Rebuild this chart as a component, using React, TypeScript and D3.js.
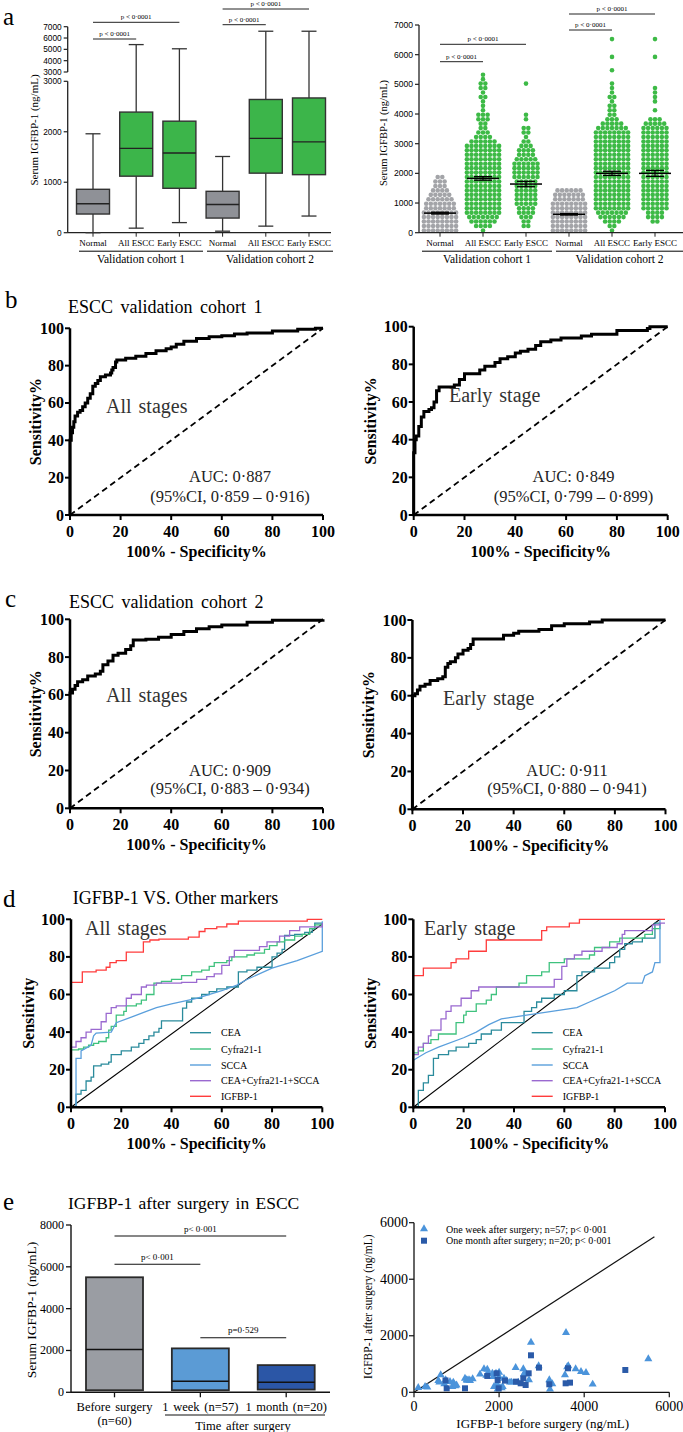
import React from 'react';
import * as d3 from 'd3';

const SERIF = '"Liberation Serif","Times New Roman",Times,serif';
const SANS = '"Liberation Sans",Arial,Helvetica,sans-serif';

type Pt = [number, number];

// ---------------- Panel a data ----------------
const groupKeys = ['n1', 'a1', 'e1', 'n2', 'a2', 'e2'];
const groupLabels = ['Normal', 'All ESCC', 'Early ESCC', 'Normal', 'All ESCC', 'Early ESCC'];
const cohortLabels = ['Validation cohort 1', 'Validation cohort 2'];
const boxMin = [0, 90, 200, 30, 130, 330];
const boxQ1 = [370, 1120, 880, 290, 1180, 1150];
const boxMedian = [575, 1670, 1580, 560, 1870, 1800];
const boxQ3 = [860, 2390, 2210, 820, 2640, 2670];
const boxMax = [1960, 5420, 5050, 1510, 6600, 6600];
const boxTicksLow = [0, 1000, 2000, 3000];
const boxTicksHigh = [3000, 4000, 5000, 6000, 7000];
const sigPairs: [number, number][] = [[0, 1], [0, 2], [3, 4], [3, 5]];
const sigText = 'p < 0·0001';

// swarm: dot counts per 150 ng/mL bin (bin i centred at 150*(i+0.5))
const swarmBin = 150;
const swarmCounts = [
  [8, 8, 8, 8, 8, 7, 7, 6, 5, 4, 3, 3, 2],
  [1, 4, 6, 7, 8, 8, 8, 8, 8, 8, 8, 8, 8, 8, 8, 8, 8, 8, 8, 8, 6, 4, 3, 2, 2, 3, 3, 1, 1, 1, 2, 1, 2, 2, 1, 1],
  [0, 2, 2, 3, 4, 4, 5, 5, 5, 5, 5, 5, 6, 6, 6, 6, 5, 4, 4, 3, 2, 1, 2, 2, 0, 1, 1, 0, 0, 0, 0, 0, 0, 1],
  [8, 8, 8, 8, 8, 8, 8, 7, 7, 6],
  [1, 2, 4, 6, 7, 8, 8, 8, 8, 8, 8, 8, 8, 8, 8, 8, 8, 8, 8, 8, 8, 8, 8, 7, 5, 3, 2, 2, 2, 1, 2, 1, 1, 1, 0, 0, 1, 0, 0, 1, 0, 0, 0, 1],
  [0, 0, 2, 4, 4, 6, 6, 6, 6, 6, 6, 6, 6, 6, 6, 6, 6, 6, 6, 6, 6, 6, 6, 6, 5, 3, 0, 1, 0, 1, 1, 1, 1, 0, 0, 0, 0, 0, 0, 1, 0, 0, 0, 1],
];
const swarmMean = [660, 1830, 1640, 620, 2000, 2000];
const swarmSem = [30, 60, 90, 25, 70, 100];
const swarmTicks = [0, 1000, 2000, 3000, 4000, 5000, 6000, 7000];

// ---------------- Panels b / c data ----------------
const rocTicks = [0, 20, 40, 60, 80, 100];
const rocB1: Pt[] = [[0, 0], [0, 40], [0.5, 44], [1, 47], [1.5, 50], [2, 53], [3, 55], [4, 56], [5, 58], [6, 60], [7, 62.5], [8, 65], [9, 69], [10, 70.5], [11, 72], [12, 74], [14, 75], [16, 76], [16.5, 77.7], [17, 79], [18, 82], [18.5, 83], [22, 84], [26, 85], [30, 86.5], [34, 88], [38, 89], [40, 90], [42, 91.5], [45, 93], [50, 94.5], [55, 95.5], [60, 96], [65, 97], [70, 97.5], [80, 98.5], [90, 99.5], [97, 100], [100, 100]];
const rocB2: Pt[] = [[0, 0], [0, 33], [0.5, 40], [1, 42], [2, 47], [3, 52], [4, 55], [6, 56], [7, 57], [8, 60], [9, 66], [10, 68], [14, 68], [16, 69], [18, 72], [20, 75], [24, 75], [26, 77], [28, 79], [32, 81], [34, 83], [37, 84], [40, 86], [42, 87], [45, 88], [48, 90], [50, 92], [54, 93], [58, 94], [66, 95], [70, 96], [78, 96], [80, 98], [88, 98], [92, 99], [93, 100], [100, 100]];
const rocC1: Pt[] = [[0, 0], [0, 61], [1, 63], [2, 65], [3, 67], [5, 68], [7, 70], [10, 71], [12, 72.5], [13, 76], [15, 78], [17, 81], [19, 82], [22, 84], [24, 86], [25, 89], [30, 89.5], [35, 90.5], [40, 92], [45, 93.5], [50, 95], [55, 96], [60, 97], [70, 98.5], [80, 99.5], [100, 100]];
const rocC2: Pt[] = [[0, 0], [0, 60], [1, 61], [2, 63], [3, 65], [5, 66], [7, 68], [10, 69], [12, 70], [13, 75], [14, 77], [15, 78], [17, 80], [18, 82], [20, 84], [22, 85], [23, 87], [24, 90], [35, 90], [36, 92], [40, 93], [42, 94], [50, 95], [55, 97], [60, 98], [70, 99], [75, 100], [100, 100]];

// ---------------- Panel d data ----------------
const markerNames = ['CEA', 'Cyfra21-1', 'SCCA', 'CEA+Cyfra21-1+SCCA', 'IGFBP-1'];
const dAllCEA: Pt[] = [[0, 0], [2, 0], [2, 7], [4, 9], [6, 14], [8, 16], [9, 22], [12, 23], [15, 24], [16, 28], [20, 30], [24, 32], [27, 34], [29, 36], [31, 38], [33, 40], [35, 42], [36, 46], [44.4, 52.7], [46, 56], [48, 58], [52, 60], [55, 61.5], [58, 63], [62, 64], [66.6, 66], [66.6, 72], [70, 73], [74, 74.5], [80, 75], [80, 80], [82, 82], [84, 84], [85, 91.5], [89, 92], [93, 93], [96, 95], [97, 98], [100, 98]];
const dAllCyfra: Pt[] = [[0, 0], [0, 30.5], [3, 31], [5, 32], [7, 33], [9, 34], [11, 35], [14, 37], [15, 41], [16, 43], [18, 44], [18, 49], [21, 51], [22, 54], [26, 55], [28, 57], [30, 60], [33, 62], [33, 66], [36, 67], [40, 68], [44, 70], [48, 72], [52, 73], [55, 75], [57, 77], [62, 78], [64, 80], [70, 81], [73, 82], [77, 84], [79, 86], [82, 88], [85, 89], [89, 91], [92, 92], [95, 95], [97, 97], [100, 98]];
const dAllSCCA: Pt[] = [[0, 0], [2, 0], [2, 26], [4, 26], [4, 30], [8, 33], [9, 38], [10, 39.5], [16, 40], [18, 45], [24, 48], [30, 51], [34, 53], [40, 55], [50, 58], [60, 62], [66, 65], [70, 68], [80, 74], [90, 78], [100, 83], [100, 99]];
const dAllCombo: Pt[] = [[0, 0], [0, 32], [2, 35], [4, 37], [6, 40], [8, 41.5], [12, 45.5], [14, 50], [16, 53], [18, 54], [22, 58], [24, 60], [28, 64], [30, 65], [34, 66], [44, 66.5], [50, 68], [54, 69.5], [57, 71], [60, 75.5], [63, 80], [65, 83.5], [75, 85.5], [78, 88], [83, 91], [87, 94], [91, 96], [100, 98]];
const dAllIGFBP: Pt[] = [[0, 0], [0, 66.5], [4.5, 72], [10, 73], [14, 74.5], [15.5, 77], [18, 78], [22, 82.5], [28.8, 88], [31.4, 89], [35, 89.5], [46.7, 90.5], [51, 93.5], [53.3, 95], [58, 96], [62, 97.5], [66.6, 99], [94, 100], [100, 100]];
const dAllDiag: Pt[] = [[0, 0], [100, 97.5]];

const dEarlyCEA: Pt[] = [[0, 0], [2, 0], [2, 9], [4, 13], [6, 17], [8, 26], [10, 28], [14, 30], [17, 32], [22, 34], [25, 36], [27, 39], [31, 41], [35, 45], [44, 51], [47, 53], [49, 56], [51, 58], [56, 60], [60, 62], [65, 70], [67, 72], [72, 74], [78, 77], [80, 80], [82, 84], [84, 87], [87, 88], [91, 90], [96, 98], [98, 98]];
const dEarlyCyfra: Pt[] = [[0, 0], [0, 29], [2, 30], [4, 34], [7, 36], [10, 39], [17, 45], [20, 49], [21, 51], [25, 55], [29, 57], [31, 60], [33, 64], [42, 66], [45, 70], [51, 72], [54, 77], [60, 79], [70, 81], [72, 85], [78, 88], [82, 90], [92, 92], [95, 95], [98, 98]];
const dEarlySCCA: Pt[] = [[0, 0], [0, 25], [5, 29], [10, 32], [20, 37], [25, 40], [30, 44], [35, 47], [45, 49], [55, 51], [65, 53], [70, 56], [75, 59], [80, 62], [85, 66], [91, 66], [92, 70], [95, 72], [96, 77], [98, 77], [98, 100]];
const dEarlyCombo: Pt[] = [[0, 0], [0, 28], [2, 32], [4, 34], [6, 38], [7, 41], [11, 47], [13, 51], [15, 54], [19, 58], [23, 62], [26, 64], [56, 68], [59, 75], [61, 79], [64, 81], [67, 83], [75, 85], [81, 87], [83, 92], [84, 94], [95, 97], [98, 98], [100, 98]];
const dEarlyIGFBP: Pt[] = [[0, 0], [0, 70], [4, 74], [15, 77], [17, 79], [22, 83], [29, 89], [51, 94], [53, 96], [62, 98], [66, 100], [100, 100]];
const dEarlyDiag: Pt[] = [[0, 0], [98, 100]];

// ---------------- Panel e data ----------------
const surgeryGroups = ['Before surgery', '1 week (n=57)', '1 month (n=20)'];
const surgerySub = ['(n=60)', '', ''];
const surgeryMin = [100, 100, 130];
const surgeryMax = [5500, 2100, 1300];
const surgeryMedian = [2050, 530, 475];
const surgeryTicks = [0, 2000, 4000, 6000, 8000];
const surgerySig = [
  { a: 0, b: 2, label: 'p< 0·001' },
  { a: 0, b: 1, label: 'p< 0·001' },
  { a: 1, b: 2, label: 'p=0·529' },
];
const timeLabel = 'Time after surgery';

const weekPoints: Pt[] = [[100, 165], [260, 200], [313, 177], [572, 413], [595, 354], [627, 613], [713, 295], [744, 436], [846, 377], [900, 200], [924, 354], [940, 283], [971, 224], [1000, 250], [1198, 495], [1238, 436], [1250, 420], [1292, 436], [1316, 413], [1378, 472], [1551, 637], [1645, 825], [1700, 600], [1723, 813], [1747, 672], [1841, 672], [1864, 554], [1880, 200], [1927, 672], [1950, 300], [1966, 106], [1998, 554], [2000, 700], [2021, 165], [2060, 153], [2084, 200], [2115, 495], [2178, 413], [2256, 354], [2295, 354], [2389, 872], [2450, 350], [2569, 825], [2585, 637], [2593, 672], [2702, 436], [2749, 1768], [2929, 931], [3180, 436], [3196, 106], [3250, 300], [3548, 613], [3572, 2110], [3600, 900], [3627, 931], [3799, 825], [3925, 731], [4042, 696], [4199, 283], [5507, 1179]];
const monthPoints: Pt[] = [[740, 420], [768, 141], [1198, 141], [1723, 578], [1943, 672], [1966, 436], [1990, 141], [2138, 413], [2397, 377], [2507, 318], [2569, 495], [2624, 259], [2695, 672], [2749, 1309], [2937, 872], [3180, 283], [3564, 318], [3619, 849], [3666, 342], [4966, 790]];
const identityLine: Pt[] = [[0, 0], [5650, 5500]];
const scatterTicks = [0, 2000, 4000, 6000];
const scatterLegend = ['One week after surgery; n=57;  p< 0·001', 'One month after surgery; n=20; p< 0·001'];

// ================= Components =================

function PanelLetter({ x, y, t }: { x: number; y: number; t: string }) {
  return <text x={x} y={y} fontFamily={SERIF} fontSize={25}>{t}</text>;
}

function CohortAxis({ x, y0, centers }: { x: (k: string) => number; y0: number; centers: [number, number][] }) {
  return (
    <g>
      {groupKeys.map((k, i) => (
        <g key={k + i}>
          <line x1={x(k)} x2={x(k)} y1={y0} y2={y0 + 4} stroke="#222" strokeWidth={1} />
          <text x={x(k)} y={y0 + 13.5} textAnchor="middle" fontFamily={SERIF} fontSize={9}>{groupLabels[i]}</text>
        </g>
      ))}
      {cohortLabels.map((c, i) => (
        <g key={c}>
          <line x1={centers[i][0]} x2={centers[i][1]} y1={y0 + 18.5} y2={y0 + 18.5} stroke="#000" strokeWidth={1} />
          <text x={(centers[i][0] + centers[i][1]) / 2} y={y0 + 30} textAnchor="middle" fontFamily={SERIF} fontSize={11.5}>{c}</text>
        </g>
      ))}
    </g>
  );
}

function BoxPanel() {
  const x = d3.scalePoint<string>().domain(groupKeys).range([93, 309]);
  const yLo = d3.scaleLinear().domain([0, 3000]).range([232.7, 81.3]);
  const yHi = d3.scaleLinear().domain([3000, 7000]).range([72, 26.7]);
  const y = (v: number) => (v <= 3000 ? yLo(v) : yHi(v));
  const ax = 67.7;
  const bw = 33;
  const sigY = [39, 22.3, 24.7, 9];
  return (
    <g>
      <line x1={ax} x2={ax} y1={yLo(0)} y2={yLo(3000)} stroke="#222" strokeWidth={1.3} />
      <line x1={ax} x2={ax} y1={yHi(3000)} y2={yHi(7000)} stroke="#222" strokeWidth={1.3} />
      {boxTicksLow.map((t) => (
        <g key={'l' + t}>
          <line x1={ax - 4} x2={ax} y1={yLo(t)} y2={yLo(t)} stroke="#222" strokeWidth={1.2} />
          <text x={ax - 6} y={yLo(t)} dy="0.35em" textAnchor="end" fontFamily={SANS} fontSize={8.3}>{t}</text>
        </g>
      ))}
      {boxTicksHigh.map((t) => (
        <g key={'h' + t}>
          <line x1={ax - 4} x2={ax} y1={yHi(t)} y2={yHi(t)} stroke="#222" strokeWidth={1.2} />
          <text x={ax - 6} y={yHi(t)} dy="0.35em" textAnchor="end" fontFamily={SANS} fontSize={8.3}>{t}</text>
        </g>
      ))}
      <text transform={`translate(34,130) rotate(-90)`} textAnchor="middle" dominantBaseline="central" fontFamily={SERIF} fontSize={11}>Serum IGFBP-1 (ng/mL)</text>
      <line x1={ax} x2={331} y1={yLo(0)} y2={yLo(0)} stroke="#222" strokeWidth={1.3} />
      {groupKeys.map((k, i) => {
        const cx = x(k)!;
        const fill = i % 3 === 0 ? '#8f9197' : '#3cb54a';
        return (
          <g key={k}>
            <line x1={cx} x2={cx} y1={y(boxMin[i])} y2={y(boxQ1[i])} stroke="#333" strokeWidth={1.3} />
            <line x1={cx} x2={cx} y1={y(boxQ3[i])} y2={y(boxMax[i])} stroke="#333" strokeWidth={1.3} />
            <line x1={cx - 7.5} x2={cx + 7.5} y1={y(boxMin[i])} y2={y(boxMin[i])} stroke="#333" strokeWidth={1.3} />
            <line x1={cx - 7.5} x2={cx + 7.5} y1={y(boxMax[i])} y2={y(boxMax[i])} stroke="#333" strokeWidth={1.3} />
            <rect x={cx - bw / 2} y={y(boxQ3[i])} width={bw} height={y(boxQ1[i]) - y(boxQ3[i])} fill={fill} stroke="#333" strokeWidth={1.4} />
            <line x1={cx - bw / 2} x2={cx + bw / 2} y1={y(boxMedian[i])} y2={y(boxMedian[i])} stroke="#222" strokeWidth={1.4} />
          </g>
        );
      })}
      {sigPairs.map(([a, b], i) => (
        <g key={'s' + i}>
          <line x1={x(groupKeys[a])} x2={x(groupKeys[b])} y1={sigY[i]} y2={sigY[i]} stroke="#222" strokeWidth={1} />
          <text x={(x(groupKeys[a])! + x(groupKeys[b])!) / 2} y={sigY[i] - 3} textAnchor="middle" fontFamily={SERIF} fontSize={7}>{sigText}</text>
        </g>
      ))}
      <CohortAxis x={(k) => x(k)!} y0={yLo(0)} centers={[[79, 203], [207, 333]]} />
    </g>
  );
}

function SwarmPanel() {
  const x = d3.scalePoint<string>().domain(groupKeys).range([440, 655]);
  const y = d3.scaleLinear().domain([0, 7000]).range([232.7, 25]);
  const ax = 419;
  const sigY = [61.7, 44.3, 30, 14];
  const dots: { cx: number; cy: number; c: string; key: string }[] = [];
  swarmCounts.forEach((counts, g) => {
    const cx0 = x(groupKeys[g])!;
    const col = g % 3 === 0 ? '#a3a4a8' : '#3dba46';
    counts.forEach((n, b) => {
      const v = swarmBin * (b + 0.5);
      for (let j = 0; j < n; j++) {
        dots.push({ cx: cx0 + (j - (n - 1) / 2) * 4.6, cy: y(v), c: col, key: `${g}-${b}-${j}` });
      }
    });
  });
  return (
    <g>
      <line x1={ax} x2={ax} y1={y(0)} y2={y(7000)} stroke="#222" strokeWidth={1.3} />
      {swarmTicks.map((t) => (
        <g key={t}>
          <line x1={ax - 4} x2={ax} y1={y(t)} y2={y(t)} stroke="#222" strokeWidth={1.2} />
          <text x={ax - 6} y={y(t)} dy="0.35em" textAnchor="end" fontFamily={SANS} fontSize={8.6}>{t}</text>
        </g>
      ))}
      <text transform={`translate(383,133) rotate(-90)`} textAnchor="middle" dominantBaseline="central" fontFamily={SERIF} fontSize={10.5}>Serum IGFBP-1 (ng/mL)</text>
      {dots.map((d) => <circle key={d.key} cx={d.cx} cy={d.cy} r={2.3} fill={d.c} />)}
      {groupKeys.map((k, i) => {
        const cx = x(k)!;
        return (
          <g key={'m' + k}>
            <line x1={cx - 16} x2={cx + 16} y1={y(swarmMean[i])} y2={y(swarmMean[i])} stroke="#000" strokeWidth={1.5} />
            <line x1={cx} x2={cx} y1={y(swarmMean[i] - swarmSem[i])} y2={y(swarmMean[i] + swarmSem[i])} stroke="#000" strokeWidth={1.3} />
            <line x1={cx - 9} x2={cx + 9} y1={y(swarmMean[i] - swarmSem[i])} y2={y(swarmMean[i] - swarmSem[i])} stroke="#000" strokeWidth={1.3} />
            <line x1={cx - 9} x2={cx + 9} y1={y(swarmMean[i] + swarmSem[i])} y2={y(swarmMean[i] + swarmSem[i])} stroke="#000" strokeWidth={1.3} />
          </g>
        );
      })}
      <line x1={ax} x2={683} y1={y(0)} y2={y(0)} stroke="#222" strokeWidth={1.3} />
      {sigPairs.map(([a, b], i) => (
        <g key={'s' + i}>
          <line x1={x(groupKeys[a])} x2={x(groupKeys[b])} y1={sigY[i]} y2={sigY[i]} stroke="#222" strokeWidth={1} />
          <text x={(x(groupKeys[a])! + x(groupKeys[b])!) / 2} y={sigY[i] - 3} textAnchor="middle" fontFamily={SERIF} fontSize={7}>{sigText}</text>
        </g>
      ))}
      <CohortAxis x={(k) => x(k)!} y0={y(0)} centers={[[422, 552], [556, 683]]} />
    </g>
  );
}

function RocAxes({ x, y, yLabel, labelX }: { x: d3.ScaleLinear<number, number>; y: d3.ScaleLinear<number, number>; yLabel: string; labelX: number }) {
  return (
    <g fontFamily={SERIF} fontWeight="bold">
      <line x1={x(0)} x2={x(100)} y1={y(0)} y2={y(0)} stroke="#000" strokeWidth={2.5} />
      <line x1={x(0)} x2={x(0)} y1={y(0) + 1.2} y2={y(100)} stroke="#000" strokeWidth={2.5} />
      {rocTicks.map((t) => (
        <g key={t}>
          <line x1={x(t)} x2={x(t)} y1={y(0)} y2={y(0) + 5} stroke="#000" strokeWidth={2} />
          <text x={x(t)} y={y(0) + 16} dominantBaseline="central" textAnchor="middle" fontSize={16}>{t}</text>
          <line x1={x(0) - 5} x2={x(0)} y1={y(t)} y2={y(t)} stroke="#000" strokeWidth={2} />
          <text x={x(0) - 6} y={y(t)} dominantBaseline="central" textAnchor="end" fontSize={16}>{t}</text>
        </g>
      ))}
      <text x={(x(0) + x(100)) / 2} y={y(0) + 36} dominantBaseline="central" textAnchor="middle" fontSize={16}>100% - Specificity%</text>
      <text transform={`translate(${labelX},${(y(0) + y(100)) / 2}) rotate(-90)`} dominantBaseline="central" textAnchor="middle" fontSize={16}>{yLabel}</text>
    </g>
  );
}

type RocProps = {
  x0: number; x1: number; yTop: number; yBot: number; pts: Pt[];
  stage: string; stageX: number; stageY: number;
  auc: string; ci: string; aucX: number; aucY: number; ciY: number; labelX: number;
};

function RocPanel(p: RocProps) {
  const x = d3.scaleLinear().domain([0, 100]).range([p.x0, p.x1]);
  const y = d3.scaleLinear().domain([0, 100]).range([p.yBot, p.yTop]);
  const line = d3.line<Pt>().x((d) => x(d[0])).y((d) => y(d[1])).curve(d3.curveStepAfter);
  const diag = d3.line<Pt>().x((d) => x(d[0])).y((d) => y(d[1]));
  return (
    <g>
      <path d={diag([[0, 0], [100, 100]]) || ''} fill="none" stroke="#000" strokeWidth={1.8} strokeDasharray="6,4" />
      <path d={line(p.pts) || ''} fill="none" stroke="#000" strokeWidth={3} strokeLinejoin="miter" />
      <RocAxes x={x} y={y} yLabel="Sensitivity%" labelX={p.labelX} />
      <text x={p.stageX} y={p.stageY} dominantBaseline="central" fontFamily={SERIF} fontSize={20} fill="#333" wordSpacing={2}>{p.stage}</text>
      <text x={p.aucX} y={p.aucY} dominantBaseline="central" textAnchor="middle" fontFamily={SERIF} fontSize={16.5} fill="#222">{p.auc}</text>
      <text x={p.aucX} y={p.ciY} dominantBaseline="central" textAnchor="middle" fontFamily={SERIF} fontSize={16.5} fill="#222">{p.ci}</text>
    </g>
  );
}

const markerColors = ['#2a8b9c', '#3fc27e', '#5a9fdc', '#9a69d0', '#ff3c3c'];

function MarkerRoc({ x0, x1, yTop, yBot, series, diagPts, stage, stageX, legX, labelX }: {
  x0: number; x1: number; yTop: number; yBot: number; series: Pt[][]; diagPts: Pt[];
  stage: string; stageX: number; legX: number; labelX: number;
}) {
  const x = d3.scaleLinear().domain([0, 100]).range([x0, x1]);
  const y = d3.scaleLinear().domain([0, 100]).range([yBot, yTop]);
  const step = d3.line<Pt>().x((d) => x(d[0])).y((d) => y(d[1])).curve(d3.curveStepAfter);
  const lin = d3.line<Pt>().x((d) => x(d[0])).y((d) => y(d[1]));
  const legY = [1032.7, 1049, 1065, 1080.7, 1096.3];
  return (
    <g>
      <path d={lin(diagPts) || ''} fill="none" stroke="#000" strokeWidth={1.1} />
      {series.map((s, i) => (
        <path key={i} d={(i === 2 ? lin(s) : step(s)) || ''} fill="none" stroke={markerColors[i]} strokeWidth={1.3} />
      ))}
      <RocAxes x={x} y={y} yLabel="Sensitivity" labelX={labelX} />
      <text x={stageX} y={y(100) + 9} dominantBaseline="central" fontFamily={SERIF} fontSize={20} fill="#333" wordSpacing={2}>{stage}</text>
      {markerNames.map((m, i) => (
        <g key={m}>
          <line x1={legX} x2={legX + 21} y1={legY[i]} y2={legY[i]} stroke={markerColors[i]} strokeWidth={1.4} />
          <text x={legX + 31} y={legY[i]} dominantBaseline="central" fontFamily={SERIF} fontSize={10}>{m}</text>
        </g>
      ))}
    </g>
  );
}

function SurgeryBars() {
  const x = d3.scalePoint<string>().domain(surgeryGroups).range([114.5, 286.2]);
  const y = d3.scaleLinear().domain([0, 8000]).range([1392.3, 1225]);
  const ax = 71;
  const bw = 57;
  const colors = ['#9a9da3', '#5b9bd5', '#2b56a6'];
  const sigY = [1236, 1264.3, 1337.7];
  return (
    <g fontFamily={SERIF}>
      <text x={68} y={1203} dominantBaseline="central" fontSize={17.5} wordSpacing={2}>IGFBP-1 after surgery in ESCC</text>
      <line x1={ax} x2={ax} y1={y(0)} y2={y(8000)} stroke="#111" strokeWidth={1.4} />
      {surgeryTicks.map((t) => (
        <g key={t}>
          <line x1={ax - 5} x2={ax} y1={y(t)} y2={y(t)} stroke="#111" strokeWidth={1.3} />
          <text x={ax - 7} y={y(t)} dominantBaseline="central" textAnchor="end" fontSize={12}>{t}</text>
        </g>
      ))}
      <text transform={`translate(31.7,1310) rotate(-90)`} dominantBaseline="central" textAnchor="middle" fontSize={13.5}>Serum IGFBP-1 (ng/mL)</text>
      {surgeryGroups.map((g, i) => {
        const cx = x(g)!;
        return (
          <g key={g}>
            <rect x={cx - bw / 2} y={y(surgeryMax[i])} width={bw} height={y(surgeryMin[i]) - y(surgeryMax[i])} fill={colors[i]} stroke="#2a2a2a" strokeWidth={1.8} />
            <line x1={cx - bw / 2} x2={cx + bw / 2} y1={y(surgeryMedian[i])} y2={y(surgeryMedian[i])} stroke="#111" strokeWidth={1.5} />
            <line x1={cx} x2={cx} y1={y(0)} y2={y(0) + 5} stroke="#111" strokeWidth={1.3} />
            <text x={cx} y={1407.3} dominantBaseline="central" textAnchor="middle" fontSize={12.5} wordSpacing={1.5}>{g}</text>
            {surgerySub[i] && <text x={cx} y={1421} dominantBaseline="central" textAnchor="middle" fontSize={12.5}>{surgerySub[i]}</text>}
          </g>
        );
      })}
      <line x1={ax} x2={330} y1={y(0)} y2={y(0)} stroke="#111" strokeWidth={1.4} />
      <line x1={165} x2={325} y1={1415} y2={1415} stroke="#111" strokeWidth={1.2} />
      <text x={243} y={1425.5} dominantBaseline="central" textAnchor="middle" fontSize={12.5} wordSpacing={1.5}>{timeLabel}</text>
      {surgerySig.map((s, i) => {
        const xa = x(surgeryGroups[s.a])!;
        const xb = x(surgeryGroups[s.b])!;
        return (
          <g key={i}>
            <line x1={xa} x2={xb} y1={sigY[i]} y2={sigY[i]} stroke="#111" strokeWidth={1.1} />
            <text x={(xa + xb) / 2} y={sigY[i] - 7.5} dominantBaseline="central" textAnchor="middle" fontSize={9}>{s.label}</text>
          </g>
        );
      })}
    </g>
  );
}

function SurgeryScatter() {
  const x = d3.scaleLinear().domain([0, 6000]).range([414, 669.3]);
  const y = d3.scaleLinear().domain([0, 6000]).range([1392.3, 1222.7]);
  const tri = d3.symbol().type(d3.symbolTriangle).size(28)() || '';
  const sq = d3.symbol().type(d3.symbolSquare).size(36)() || '';
  const lin = d3.line<Pt>().x((d) => x(d[0])).y((d) => y(d[1]));
  return (
    <g fontFamily={SERIF}>
      <path d={lin(identityLine) || ''} stroke="#111" strokeWidth={1.2} fill="none" />
      {weekPoints.map((p, i) => <path key={'w' + i} d={tri} transform={`translate(${x(p[0])},${y(p[1])})`} fill="#4b94db" />)}
      {monthPoints.map((p, i) => <path key={'m' + i} d={sq} transform={`translate(${x(p[0])},${y(p[1])})`} fill="#2a5aa8" />)}
      <line x1={x(0)} x2={x(0)} y1={y(0)} y2={y(6000)} stroke="#111" strokeWidth={1.3} />
      <line x1={x(0)} x2={x(6000)} y1={y(0)} y2={y(0)} stroke="#111" strokeWidth={1.3} />
      {scatterTicks.map((t) => (
        <g key={t}>
          <line x1={x(0) - 5} x2={x(0)} y1={y(t)} y2={y(t)} stroke="#111" strokeWidth={1.2} />
          <text x={x(0) - 6} y={y(t)} dominantBaseline="central" textAnchor="end" fontSize={14}>{t}</text>
          <line x1={x(t)} x2={x(t)} y1={y(0)} y2={y(0) + 5} stroke="#111" strokeWidth={1.2} />
          <text x={x(t)} y={1406.7} dominantBaseline="central" textAnchor="middle" fontSize={14}>{t}</text>
        </g>
      ))}
      <text transform={`translate(368.3,1306.7) rotate(-90)`} dominantBaseline="central" textAnchor="middle" fontSize={11.5}>IGFBP-1 after surgery (ng/mL)</text>
      <text x={542.7} y={1423.3} dominantBaseline="central" textAnchor="middle" fontSize={13}>IGFBP-1 before surgery (ng/mL)</text>
      <path d={tri} transform="translate(424,1229)" fill="#4b94db" />
      <path d={sq} transform="translate(424,1240.7)" fill="#2a5aa8" />
      <text x={446} y={1229} dominantBaseline="central" fontSize={10}>{scatterLegend[0]}</text>
      <text x={446} y={1240.7} dominantBaseline="central" fontSize={10}>{scatterLegend[1]}</text>
    </g>
  );
}

export default function App() {
  return (
    <svg width={683} height={1432} viewBox="0 0 683 1432" style={{ position: 'absolute', left: 0, top: 0, background: '#fff' }}>
      <rect x={0} y={0} width={683} height={1432} fill="#fff" />
      <PanelLetter x={3} y={25} t="a" />
      <BoxPanel />
      <SwarmPanel />

      <PanelLetter x={5} y={308} t="b" />
      <text x={68} y={306.7} dominantBaseline="central" fontFamily={SERIF} fontSize={18} wordSpacing={3}>ESCC validation cohort 1</text>
      <RocPanel x0={70} x1={323} yTop={328.3} yBot={515} pts={rocB1} stage="All stages" stageX={106} stageY={406}
        auc="AUC: 0·887" ci="(95%CI, 0·859 – 0·916)" aucX={230} aucY={476.7} ciY={496.7} labelX={35} />
      <RocPanel x0={413.7} x1={667.7} yTop={326.7} yBot={515} pts={rocB2} stage="Early stage" stageX={449} stageY={395}
        auc="AUC: 0·849" ci="(95%CI, 0·799 – 0·899)" aucX={573.5} aucY={476.7} ciY={496.7} labelX={370} />

      <PanelLetter x={5} y={607} t="c" />
      <text x={69} y={601.7} dominantBaseline="central" fontFamily={SERIF} fontSize={18} wordSpacing={3}>ESCC validation cohort 2</text>
      <RocPanel x0={70} x1={323} yTop={619.3} yBot={808.3} pts={rocC1} stage="All stages" stageX={106} stageY={695}
        auc="AUC: 0·909" ci="(95%CI, 0·883 – 0·934)" aucX={230} aucY={770} ciY={788.3} labelX={35} />
      <RocPanel x0={412.4} x1={665.5} yTop={620} yBot={809.3} pts={rocC2} stage="Early stage" stageX={443} stageY={698.3}
        auc="AUC: 0·911" ci="(95%CI, 0·880 – 0·941)" aucX={567} aucY={770} ciY={788.3} labelX={368} />

      <PanelLetter x={3} y={907} t="d" />
      <text x={72.7} y={898} dominantBaseline="central" fontFamily={SERIF} fontSize={18}>IGFBP-1 VS. Other markers</text>
      <MarkerRoc x0={71} x1={322.3} yTop={919.3} yBot={1107.3}
        series={[dAllCEA, dAllCyfra, dAllSCCA, dAllCombo, dAllIGFBP]} diagPts={dAllDiag}
        stage="All stages" stageX={85} legX={190} labelX={28} />
      <MarkerRoc x0={413.3} x1={665} yTop={919.3} yBot={1107.3}
        series={[dEarlyCEA, dEarlyCyfra, dEarlySCCA, dEarlyCombo, dEarlyIGFBP]} diagPts={dEarlyDiag}
        stage="Early stage" stageX={424} legX={531.7} labelX={370} />

      <PanelLetter x={3} y={1210} t="e" />
      <SurgeryBars />
      <SurgeryScatter />
    </svg>
  );
}
